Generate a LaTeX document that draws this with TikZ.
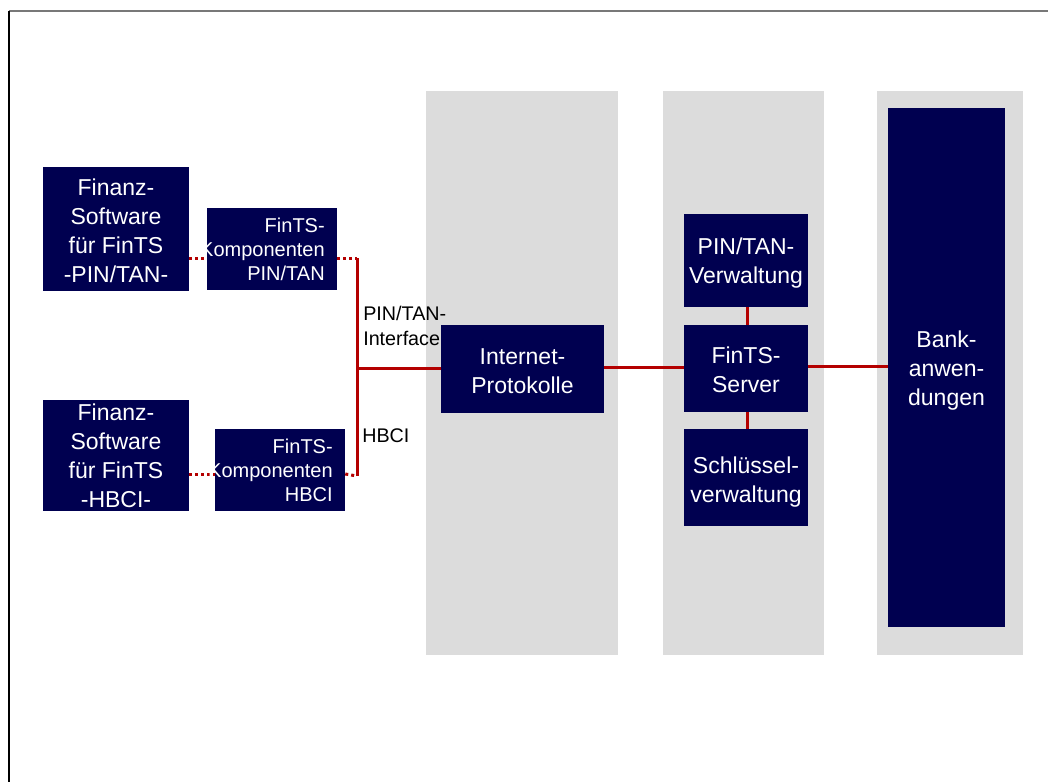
\documentclass[tikz,border=0pt]{standalone}
\usepackage{fontspec}
\setmainfont{Liberation Sans}
\definecolor{navy}{RGB}{0,0,80}
\definecolor{panel}{RGB}{220,220,220}
\definecolor{link}{RGB}{180,0,0}
\definecolor{frame}{RGB}{120,120,120}
\begin{document}
\begin{tikzpicture}[x=0.75pt,y=-0.75pt,
  panelbox/.style={fill=panel,draw=none},
  darkbox/.style={fill=navy,draw=none,inner sep=0pt},
  bigtxt/.style={text=white,align=center,font=\fontsize{17.25}{21.75}\selectfont},
  comptxt/.style={text=white,align=right,anchor=east,inner sep=0pt,font=\fontsize{15}{18}\selectfont},
  lbltxt/.style={text=black,align=left,anchor=north west,inner sep=0pt,font=\fontsize{14.8}{18.75}\selectfont},
  wire/.style={draw=link,line width=2.25pt},
  dotwire/.style={draw=link,line width=2.25pt,dash pattern=on 2.25pt off 2.25pt}]
\useasboundingbox (0,0) rectangle (1048,782);
\fill[white] (0,0) rectangle (1048,782);
% frame
\draw[frame,line width=1.5pt] (9,11) -- (1048,11);
\draw[black,line width=1.1pt] (9,11) -- (9,782);
% panels
\fill[panelbox] (426,91) rectangle (618,655);
\fill[panelbox] (663,91) rectangle (824,655);
\fill[panelbox] (877,91) rectangle (1023,655);
% boxes
\node[darkbox,minimum width=146*0.75pt,minimum height=124*0.75pt] (fpin) at (116,229) {};
\node[bigtxt] at (116,230.5) {Finanz-\\Software\\für FinTS\\-PIN/TAN-};
\node[darkbox,minimum width=130*0.75pt,minimum height=82*0.75pt] (kpin) at (272,249) {};
\node[darkbox,minimum width=146*0.75pt,minimum height=111*0.75pt] (fhbci) at (116,455.5) {};
\node[bigtxt] at (116,456) {Finanz-\\Software\\für FinTS\\-HBCI-};
\node[darkbox,minimum width=130*0.75pt,minimum height=82*0.75pt] (khbci) at (280,470) {};
\node[darkbox,minimum width=163*0.75pt,minimum height=88*0.75pt] (inet) at (522.5,369) {};
\node[bigtxt] at (522.5,371) {Internet-\\Protokolle};
\node[darkbox,minimum width=124*0.75pt,minimum height=93*0.75pt] (ptv) at (746,260.5) {};
\node[bigtxt] at (746,263.5) {PIN/TAN-\\Verwaltung};
\node[darkbox,minimum width=124*0.75pt,minimum height=87*0.75pt] (srv) at (746,368.5) {};
\node[bigtxt] at (746,369.5) {FinTS-\\Server};
\node[darkbox,minimum width=124*0.75pt,minimum height=97*0.75pt] (key) at (746,477.5) {};
\node[bigtxt] at (746,482) {Schlüssel-\\verwaltung};
\node[darkbox,minimum width=117*0.75pt,minimum height=519*0.75pt] (bank) at (946.5,367.5) {};
\node[bigtxt] at (946.5,370.5) {Bank-\\anwen-\\dungen};
% connectors
\coordinate (jtop) at (357,258);
\coordinate (jmid) at (357,368);
\coordinate (jbot) at (357,476);
\draw[dotwire] (fpin.east |- 0,258) -- (kpin.west |- 0,258);
\draw[dotwire] (kpin.east |- 0,258) -- (jtop);
\draw[dotwire] (fhbci.east |- 0,474) -- (khbci.west |- 0,474);
\draw[dotwire] (khbci.east |- 0,474) -- (jbot);
\draw[wire] (jtop) -- (jbot);
\draw[wire] (jmid) -- (inet.west |- jmid);
\draw[wire] (inet.east |- 0,367) -- (srv.west |- 0,367);
\draw[wire] (srv.east |- 0,366) -- (bank.west |- 0,366);
\draw[wire] (ptv.south -| 747,0) -- (srv.north -| 747,0);
\draw[wire] (srv.south -| 747,0) -- (key.north -| 747,0);
% component texts
\node[comptxt] at (325,249) {FinTS-\\Komponenten\\PIN/TAN};
\node[comptxt] at (333,470) {FinTS-\\Komponenten\\HBCI};
% labels
\node[lbltxt] at (363,305.5) {PIN/TAN-\\Interface};
\node[lbltxt] at (362,428) {HBCI};
\end{tikzpicture}
\end{document}
